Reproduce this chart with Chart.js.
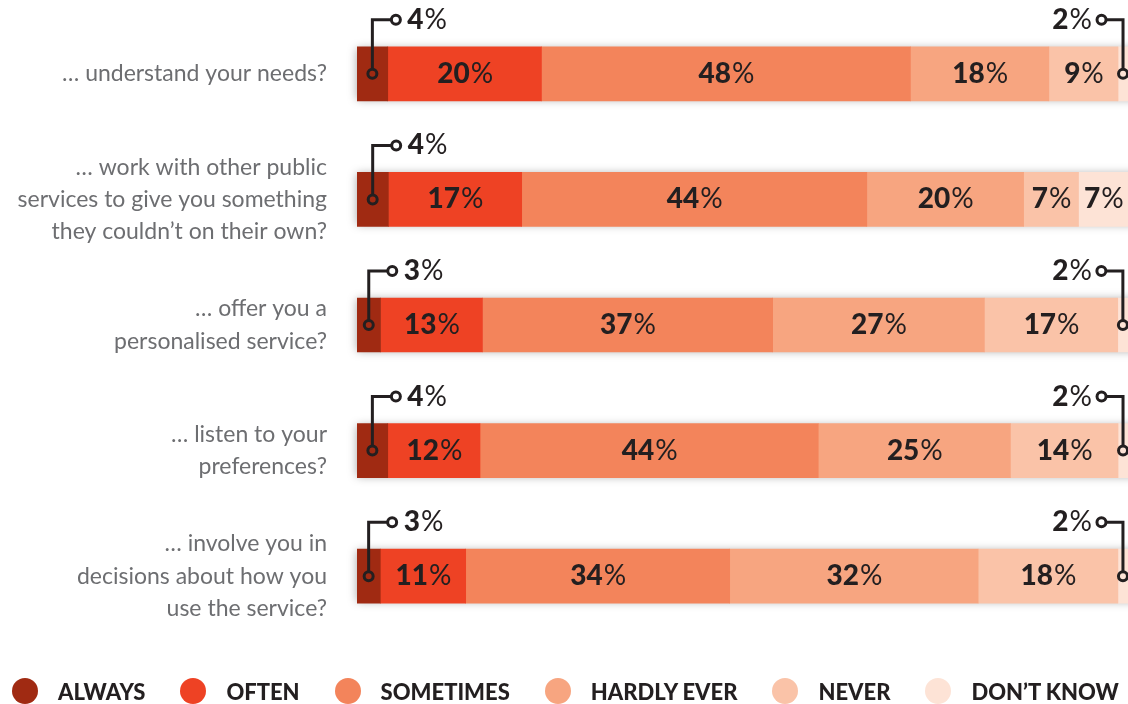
<!DOCTYPE html>
<html>
<head>
<meta charset="utf-8">
<title>Public services survey</title>
<script src="https://cdn.jsdelivr.net/npm/chart.js@4.4.0/dist/chart.umd.min.js"></script>
<style>
  html, body { margin: 0; padding: 0; background: #fff; overflow: hidden; }
  #wrap { position: relative; width: 1128px; height: 704px; }
  #legend {
    position: absolute; left: 12px; top: 678px; width: 1200px;
    display: flex; align-items: center; white-space: nowrap;
    font-family: Lato, sans-serif; font-weight: 900; font-size: 22px; color: #231f20;
  }
  #legend .item { display: flex; align-items: center; margin-right: 35px; height: 26px; flex: none; }
  #legend .dot { width: 26px; height: 26px; border-radius: 50%; margin-right: 20px; }
</style>
</head>
<body>
<div id="wrap">
  <canvas id="surveyChart" width="1128" height="704"></canvas>
  <div id="legend"></div>
</div>
<script>
// categories (question endings), one row per bar
const questions = [
  ["… understand your needs?"],
  ["… work with other public", "services to give you something", "they couldn’t on their own?"],
  ["… offer you a", "personalised service?"],
  ["… listen to your", "preferences?"],
  ["… involve you in", "decisions about how you", "use the service?"]
];

const answers = ["ALWAYS", "OFTEN", "SOMETIMES", "HARDLY EVER", "NEVER", "DON’T KNOW"];

// percentages per answer, in question order
const always     = [4, 4, 3, 4, 3];
const often      = [20, 17, 13, 12, 11];
const sometimes  = [48, 44, 37, 44, 34];
const hardlyEver = [18, 20, 27, 25, 32];
const never      = [9, 7, 17, 14, 18];
const dontKnow   = [2, 7, 2, 2, 2];

const colours = ["#a02a12", "#ee4224", "#f3845b", "#f7a580", "#fac3a8", "#fde3d6"];
const ink = "#231f20";

const series = [always, often, sometimes, hardlyEver, never, dontKnow];
// the rounded figures don't always add to 100, so each bar is scaled to full length
const totals = questions.map((q, j) => series.reduce((s, arr) => s + arr[j], 0));

const datasets = series.map((arr, i) => ({
  label: answers[i],
  data: arr.map((v, j) => v / totals[j] * 100),
  raw: arr,
  backgroundColor: colours[i],
  borderWidth: 0,
  barThickness: 54
}));

// soft shadow behind every bar
const barShadow = {
  id: "barShadow",
  beforeDatasetsDraw(chart) {
    const { ctx, chartArea } = chart;
    const first = chart.getDatasetMeta(0).data;
    ctx.save();
    first.forEach(el => {
      const h = el.height;
      ctx.shadowColor = "rgba(0,0,0,0.35)";
      ctx.shadowBlur = 9;
      ctx.fillStyle = "#fff";
      ctx.fillRect(el.base, el.y - h / 2 + 1, chartArea.right - el.base + 20, h - 2);
    });
    ctx.restore();
  }
};

function drawPct(ctx, value, x, y, align) {
  const boldFont = "900 28px Lato, sans-serif";
  const thinFont = "400 28px Lato, sans-serif";
  ctx.font = boldFont;
  const wNum = ctx.measureText(String(value)).width;
  ctx.font = thinFont;
  const wPct = ctx.measureText("%").width;
  const total = wNum + wPct;
  let start = x - total / 2;
  if (align === "left") start = x;
  if (align === "right") start = x - total;
  ctx.textAlign = "left";
  ctx.textBaseline = "middle";
  ctx.fillStyle = ink;
  ctx.font = boldFont;
  ctx.fillText(String(value), start, y);
  ctx.font = thinFont;
  ctx.fillText("%", start + wNum + 1, y);
}

function ring(ctx, x, y) {
  ctx.beginPath();
  ctx.arc(x, y, 4.5, 0, Math.PI * 2);
  ctx.stroke();
}

// value labels in the bars, callouts for the thin end segments
const segmentLabels = {
  id: "segmentLabels",
  afterDatasetsDraw(chart) {
    const { ctx, chartArea } = chart;
    ctx.save();
    ctx.strokeStyle = ink;
    ctx.lineWidth = 3;
    chart.data.datasets.forEach((ds, i) => {
      chart.getDatasetMeta(i).data.forEach((el, j) => {
        const v = ds.raw[j];
        const left = el.base;
        const right = Math.min(el.x, chartArea.right);
        const cx = (left + right) / 2;
        const cy = el.y;
        const up = cy - 54;
        if (i === 0 && v <= 4) {
          ctx.beginPath();
          ctx.moveTo(cx, cy - 4.5);
          ctx.lineTo(cx, up);
          ctx.lineTo(cx + 19, up);
          ctx.stroke();
          ring(ctx, cx, cy);
          ring(ctx, cx + 23.5, up);
          drawPct(ctx, v, cx + 35, up, "left");
        } else if (i === series.length - 1 && v <= 2) {
          const lx = Math.min(cx, chartArea.right - 4);
          ctx.beginPath();
          ctx.moveTo(lx, cy - 4.5);
          ctx.lineTo(lx, up);
          ctx.lineTo(lx - 17, up);
          ctx.stroke();
          ring(ctx, lx, cy);
          ring(ctx, lx - 21.5, up);
          drawPct(ctx, v, lx - 32, up, "right");
        } else {
          drawPct(ctx, v, cx, cy, "center");
        }
      });
    });
    ctx.restore();
  }
};

new Chart(document.getElementById("surveyChart"), {
  type: "bar",
  data: { labels: questions, datasets },
  options: {
    indexAxis: "y",
    responsive: false,
    animation: false,
    layout: { padding: { top: 11, bottom: 65, left: 0, right: 0 } },
    plugins: { legend: { display: false }, tooltip: { enabled: false } },
    scales: {
      x: { stacked: true, min: 0, max: 99.3, display: false },
      y: {
        stacked: true,
        grid: { display: false, drawTicks: false },
        border: { display: false },
        ticks: {
          color: "#6d6e71",
          padding: 30,
          font: { family: "Lato, sans-serif", size: 23, lineHeight: 1.4 }
        },
        afterFit(scale) {
          scale.width = 357;
          // tall multi-line labels shouldn't push the bars inward
          scale.paddingTop = 0;
          scale.paddingBottom = 0;
        }
      }
    }
  },
  plugins: [barShadow, segmentLabels]
});

// legend row under the chart
const legend = document.getElementById("legend");
answers.forEach((name, i) => {
  const item = document.createElement("div");
  item.className = "item";
  const dot = document.createElement("span");
  dot.className = "dot";
  dot.style.background = colours[i];
  const txt = document.createElement("span");
  txt.textContent = name;
  item.appendChild(dot);
  item.appendChild(txt);
  legend.appendChild(item);
});
</script>
</body>
</html>
